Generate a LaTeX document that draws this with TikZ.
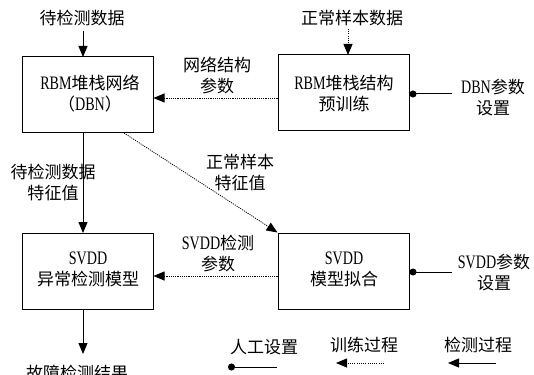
\documentclass[tikz,border=0pt]{standalone}
\usepackage{fontspec}
\setmainfont{Liberation Serif}[Scale=1.12, FakeStretch=0.74]
\newfontfamily\cjk{Noto Sans CJK SC}
\newcommand{\zh}[1]{{\cjk #1}}
\usetikzlibrary{arrows.meta}
\begin{document}
\begin{tikzpicture}[x=1pt,y=-1pt,
  every node/.style={font=\fontsize{17}{21}\selectfont, inner sep=0pt, align=center},
  box/.style={draw, line width=1pt, minimum width=131pt, minimum height=76pt},
  solidarr/.style={line width=1pt, -{Triangle[length=11pt,width=9pt]}},
  dotarr/.style={line width=0.8pt, dash pattern=on 1.1pt off 1.1pt, -{Triangle[length=11pt,width=9pt]}},
  setline/.style={line width=1pt, {Circle[length=7pt]}-}]
\useasboundingbox (0,0) rectangle (534,374);
% boxes
\node[box] (b1) at (87.5,95) {};
\node[box] (b2) at (343.5,92.5) {};
\node[box] (b3) at (87.5,271) {};
\node[box] (b4) at (343.5,271) {};
\node (t1) at (90,94) {RBM\zh{堆栈网络}\\\zh{（}DBN\zh{）}};
\node (t2) at (344,94) {RBM\zh{堆栈结构}\\\zh{预训练}};
\node (t3) at (88,269) {SVDD\\\zh{异常检测模型}};
\node (t4) at (344,269) {SVDD\\\zh{模型拟合}};
% top inputs
\node (in1) at (82,18) {\zh{待检测数据}};
\node (in2) at (352,18) {\zh{正常样本数据}};
\draw[solidarr] (83,31) -- (83,57);
\draw[dotarr] (348,29) -- (348,55);
% DBN to/from
\node (l1) at (217,75) {\zh{网络结构}\\\zh{参数}};
\draw[dotarr] (b2.west |- 0,98) -- (b1.east |- 0,98);
\node (s1) at (493,98) {DBN\zh{参数}\\\zh{设置}};
\coordinate (s1e) at (452,94);
\draw[setline] (b2.east |- s1e) -- (s1e);
% b1 -> b3
\node (l2) at (53,182) {\zh{待检测数据}\\\zh{特征值}};
\draw[solidarr] (83,133) -- (83,233);
% diagonal
\node (l3) at (240,173) {\zh{正常样本}\\\zh{特征值}};
\draw[dotarr] (124,133) -- (b4.north west);
% b4 -> b3
\node (l4) at (218,254) {SVDD\zh{检测}\\\zh{参数}};
\draw[dotarr] (b4.west |- 0,276) -- (b3.east |- 0,276);
\node (s2) at (494,273) {SVDD\zh{参数}\\\zh{设置}};
\coordinate (s2e) at (452,272);
\draw[setline] (b4.east |- s2e) -- (s2e);
% output
\draw[solidarr] (83,309) -- (83,354);
\node (out) at (77,373) {\zh{故障检测结果}};
% legend
\node (g1) at (264,347) {\zh{人工设置}};
\coordinate (g1a) at (228,367);
\coordinate (g1b) at (277,367);
\draw[setline] (g1a) -- (g1b);
\node (g2) at (364,345) {\zh{训练过程}};
\coordinate (g2a) at (384,363);
\coordinate (g2b) at (336,363);
\draw[dotarr] (g2a) -- (g2b);
\node (g3) at (478,345) {\zh{检测过程}};
\coordinate (g3a) at (496,363);
\coordinate (g3b) at (448,363);
\draw[solidarr] (g3a) -- (g3b);
\end{tikzpicture}
\end{document}
